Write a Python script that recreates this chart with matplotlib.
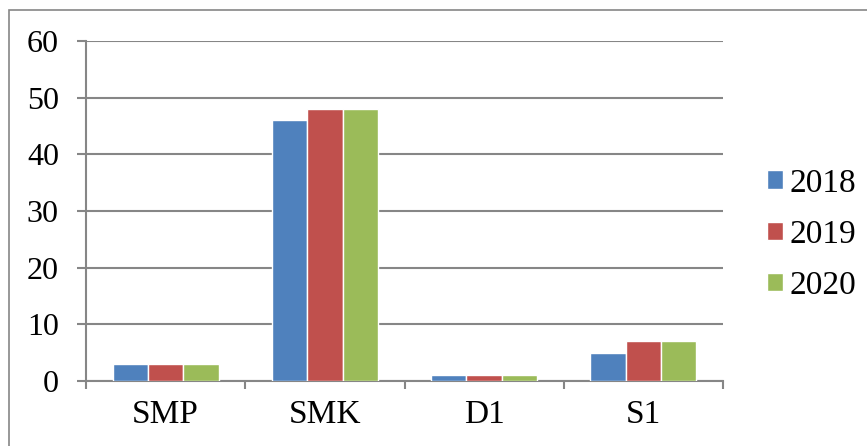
import numpy as np
import matplotlib.pyplot as plt
from matplotlib.patches import Rectangle

plt.rcParams['font.family'] = ['Liberation Serif', 'DejaVu Serif']

categories = ['SMP', 'SMK', 'D1', 'S1']
years = ['2018', '2019', '2020']
values_2018 = [3, 46, 1, 5]
values_2019 = [3, 48, 1, 7]
values_2020 = [3, 48, 1, 7]
colors = ['#4F81BD', '#C0504D', '#9BBB59']

grid_color = '#868686'

fig = plt.figure(figsize=(8.67, 4.46), dpi=100)
ax = fig.add_axes([86 / 867, 1 - 381 / 446, (723 - 86) / 867, (381 - 41) / 446])

# outer chart frame
fig.patches.append(Rectangle((9 / 867, -0.01), 1.0, 1 - 10 / 446 + 0.01,
                             transform=fig.transFigure, fill=False,
                             edgecolor=grid_color, linewidth=1.2))

x = np.arange(len(categories))
width = 0.222
for i, (vals, yr) in enumerate(zip([values_2018, values_2019, values_2020], years)):
    ax.bar(x + (i - 1) * width, vals, width, color=colors[i], label=yr,
           edgecolor='white', linewidth=1.0, zorder=3)

ax.set_xlim(-0.5, len(categories) - 0.5)
ax.set_ylim(0, 60)
ax.set_yticks(range(0, 61, 10))
ax.yaxis.grid(True, color=grid_color, linewidth=1.5, zorder=0)

# category separators as x ticks
ax.set_xticks(np.arange(-0.5, len(categories), 1.0))
ax.set_xticklabels([])
ax.set_xticks(x, minor=True)
ax.set_xticklabels(categories, minor=True)
ax.tick_params(axis='x', which='major', length=5.8, width=1.5, color=grid_color, direction='out')
ax.tick_params(axis='x', which='minor', length=0, labelsize=24, pad=13)
ax.tick_params(axis='y', length=6.5, width=1.5, color=grid_color, labelsize=23, pad=13)

for side in ['top', 'right']:
    ax.spines[side].set_visible(False)
for side in ['left', 'bottom']:
    ax.spines[side].set_color(grid_color)
    ax.spines[side].set_linewidth(1.5)

ax.legend(loc='center left', bbox_to_anchor=(1.032, 0.431), frameon=False,
          fontsize=24, handlelength=0.48, handleheight=0.48, handletextpad=0.2,
          labelspacing=0.62, borderaxespad=0.3)

fig.savefig('out.png', dpi=100)
